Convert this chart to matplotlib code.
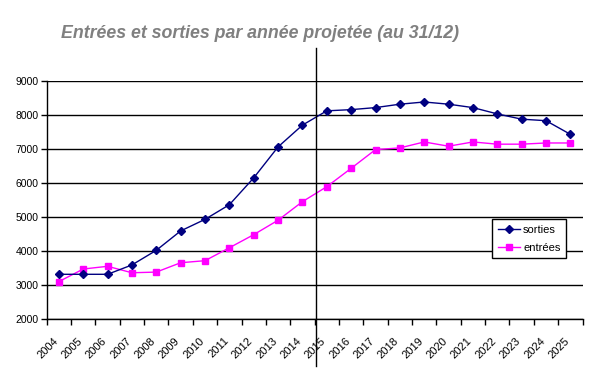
import matplotlib
matplotlib.use("Agg")
import matplotlib.pyplot as plt
from matplotlib.lines import Line2D
import numpy as np

years = [str(y) for y in range(2004, 2026)]
sorties = [3315, 3315, 3315, 3590, 4020, 4590, 4930, 5360, 6150, 7060, 7700,
           8120, 8155, 8215, 8315, 8380, 8315, 8215, 8030, 7875, 7830, 7430]
entrees = [3100, 3470, 3550, 3360, 3380, 3655, 3715, 4095, 4480, 4905, 5450,
           5890, 6430, 6980, 7030, 7205, 7080, 7205, 7140, 7140, 7175, 7175]

plt.rcParams['font.family'] = ['Liberation Sans', 'DejaVu Sans']

fig = plt.figure(figsize=(5.89, 3.78), dpi=100)
ax = fig.add_axes([0.0793, 0.156, 0.9097, 0.630])

x = np.arange(len(years))
ax.plot(x, entrees, color='#FF00FF', lw=1.0, marker='s', ms=5,
        mec='#FF00FF', mfc='#FF00FF', label='entrées', zorder=3)
ax.plot(x, sorties, color='#000080', lw=1.0, marker='D', ms=4.3,
        mec='#000080', mfc='#000080', label='sorties', zorder=4)

ax.set_xlim(-0.5, len(years) - 0.5)
ax.set_ylim(2000, 9000)
ax.set_yticks(range(2000, 9001, 1000))
ax.yaxis.grid(True, color='black', lw=1.0)
ax.set_axisbelow(True)
ax.tick_params(axis='y', direction='out', length=4, width=1, labelsize=7.5, pad=2)

ax.set_xticks(np.arange(-0.5, len(years), 1.0))
ax.set_xticklabels([])
ax.tick_params(axis='x', which='major', direction='out', length=4, width=1)
ax.set_xticks(x - 0.25, minor=True)
ax.set_xticklabels(years, minor=True, rotation=45, ha='right',
                   rotation_mode='anchor', fontsize=8)
ax.tick_params(axis='x', which='minor', length=0, pad=12)

for s in ['top', 'right']:
    ax.spines[s].set_visible(False)
for s in ['left', 'bottom']:
    ax.spines[s].set_color('black')
    ax.spines[s].set_linewidth(1.0)

# vertical separator line extending beyond axes
ax.add_line(Line2D([10.55, 10.55], [620, 9970], color='black', lw=1.0,
                   clip_on=False, zorder=5))

handles, labels = ax.get_legend_handles_labels()
leg = ax.legend(handles[::-1], labels[::-1], loc='upper left',
                bbox_to_anchor=(0.831, 0.42), borderaxespad=0,
                fontsize=8, frameon=True,
                fancybox=False, edgecolor='black', framealpha=1,
                handlelength=2.0, borderpad=0.5, labelspacing=0.75,
                handletextpad=0.3)
leg.get_frame().set_linewidth(1.0)

fig.text(0.442, 0.912, 'Entrées et sorties par année projetée (au 31/12)',
         ha='center', va='center', fontsize=12.8, fontweight='bold',
         fontstyle='italic', color='#808080')

fig.savefig('out.png', dpi=100)
